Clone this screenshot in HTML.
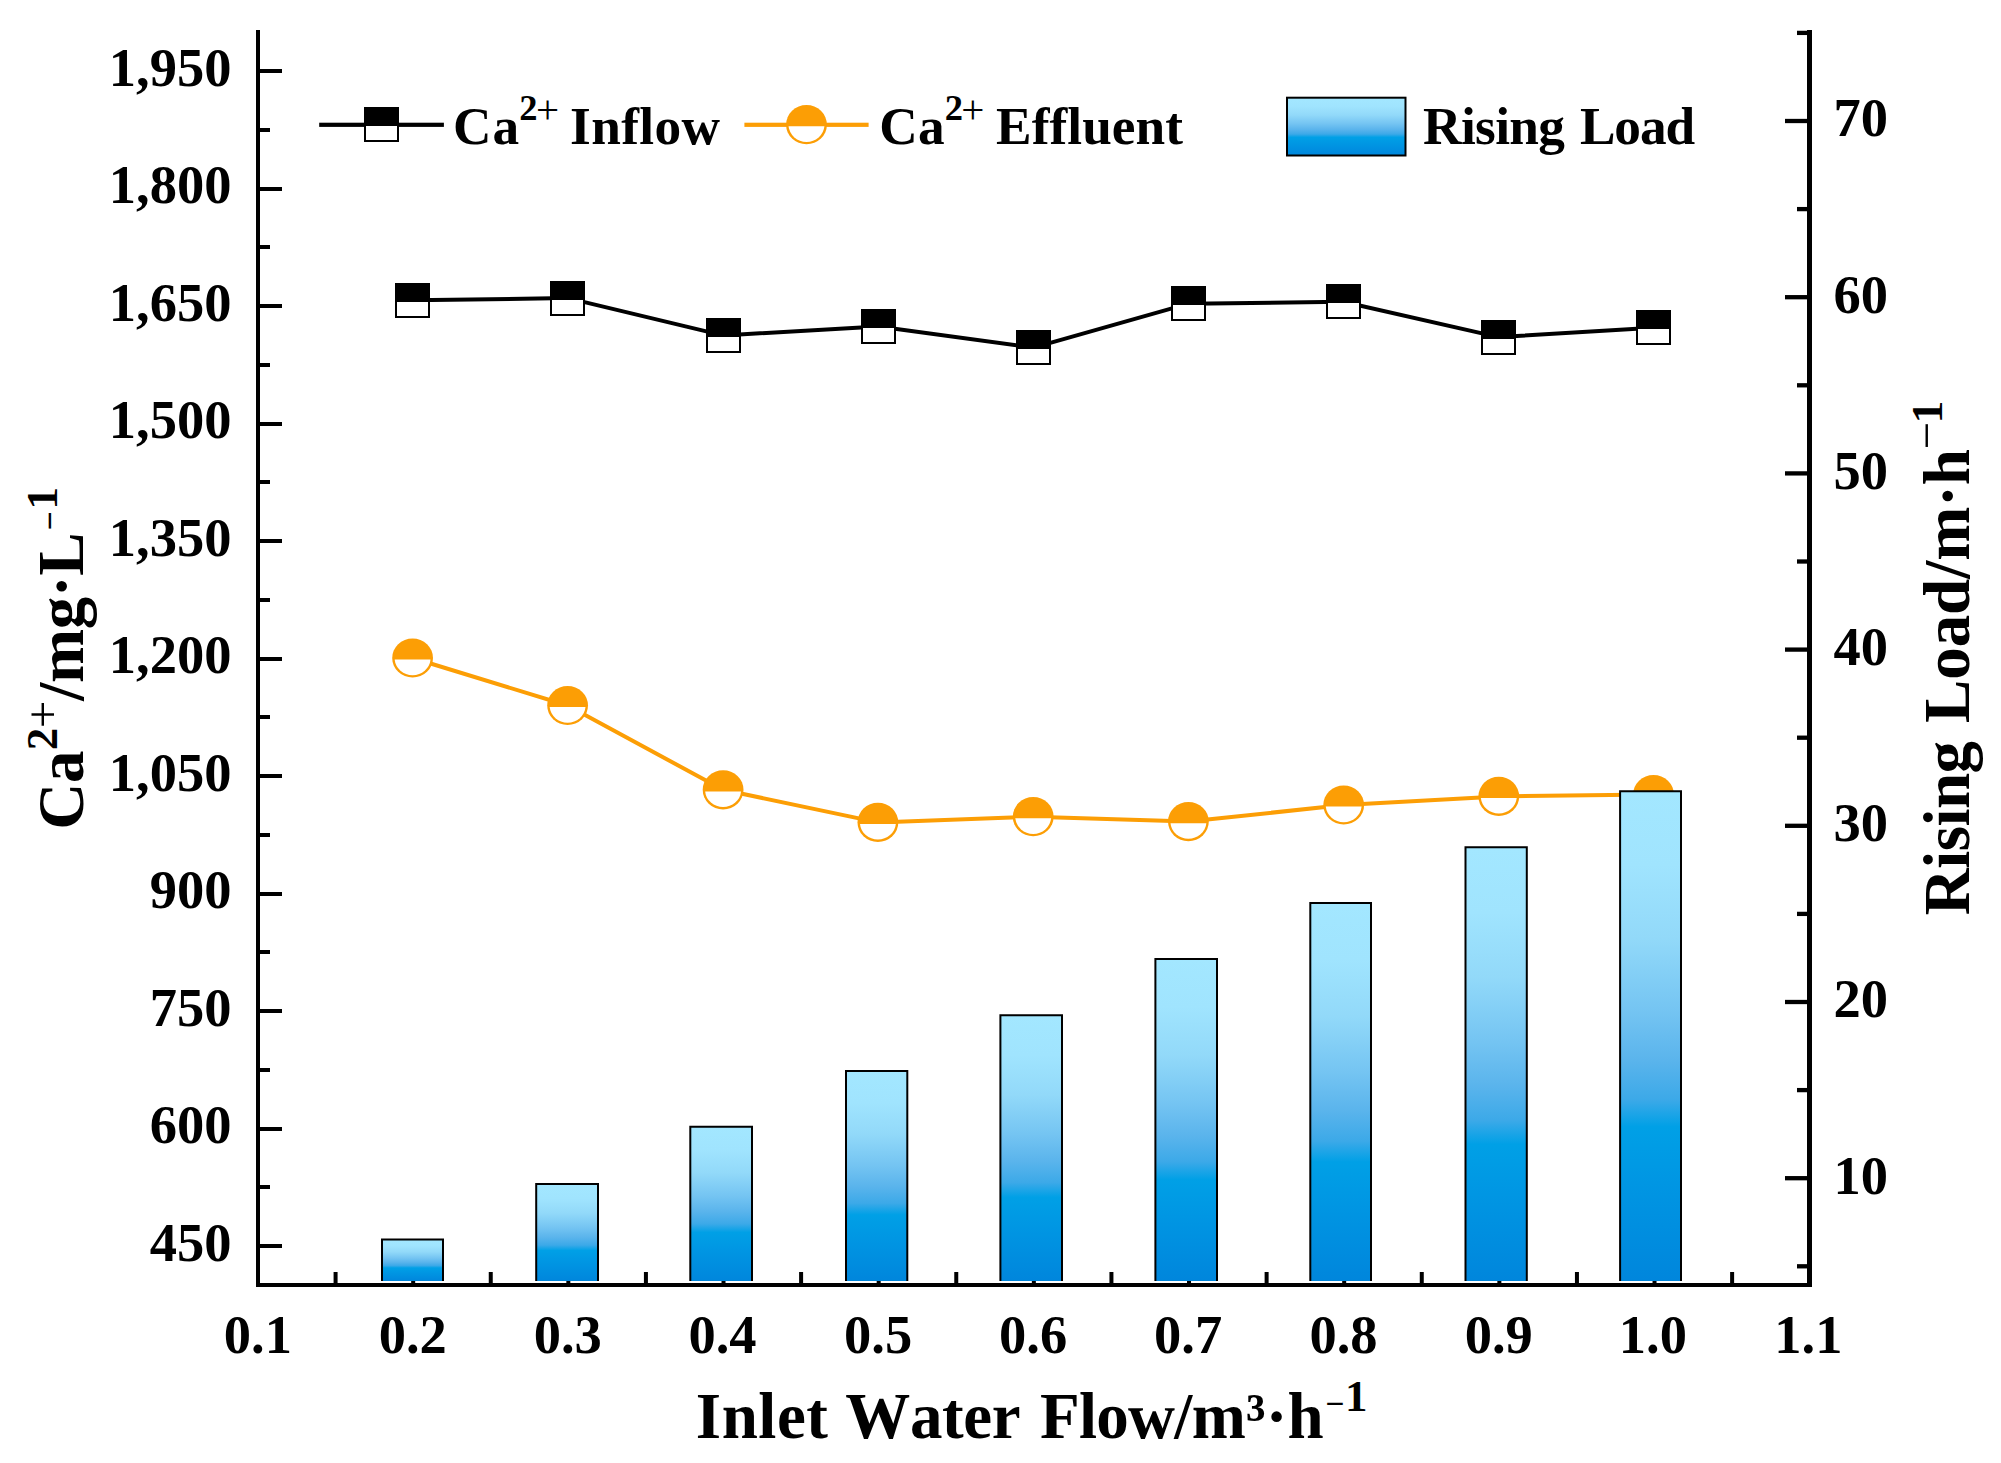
<!DOCTYPE html>
<html lang="en"><head><meta charset="utf-8"><title>Chart</title>
<style>
html,body{margin:0;padding:0;background:#fff;}
body{width:2001px;height:1463px;overflow:hidden;}
svg{display:block;}
text{font-family:"Liberation Serif",serif;font-weight:bold;fill:#000;font-kerning:none;font-variant-ligatures:none;}
.tk{font-size:54.50px;}
.lg{font-size:53.30px;}
.tt{font-size:65.00px;}
.ax{stroke:#000;stroke-width:4;fill:none;}
</style></head><body>
<svg width="2001" height="1463" viewBox="0 0 2001 1463">
<defs>
<linearGradient id="bg" x1="0" y1="0" x2="0" y2="1">
<stop offset="0" stop-color="#a3e7ff"/>
<stop offset="0.15" stop-color="#a0e4fe"/>
<stop offset="0.3" stop-color="#92d9f9"/>
<stop offset="0.45" stop-color="#74c4f2"/>
<stop offset="0.55" stop-color="#5ab4ec"/>
<stop offset="0.63" stop-color="#3ca9e8"/>
<stop offset="0.685" stop-color="#00a0e6"/>
<stop offset="0.8" stop-color="#0096e3"/>
<stop offset="1" stop-color="#0086dc"/>
</linearGradient>
</defs>
<rect x="0" y="0" width="2001" height="1463" fill="#fff"/>
<g id="orange-series">
<polyline points="412.6,658.0 567.6,705.5 723.1,789.8 877.9,822.4 1033.2,816.7 1188.4,821.6 1343.7,805.0 1498.8,796.4 1653.5,794.5" fill="none" stroke="#fc9e05" stroke-width="4" stroke-linejoin="round"/>
<ellipse cx="412.6" cy="658.0" rx="20.4" ry="19.6" fill="#fc9e05"/><path d="M394.68 659.60 A18.00 17.20 0 0 0 430.52 659.60 Z" fill="#fff"/>
<ellipse cx="567.6" cy="705.5" rx="20.4" ry="19.6" fill="#fc9e05"/><path d="M549.68 707.10 A18.00 17.20 0 0 0 585.52 707.10 Z" fill="#fff"/>
<ellipse cx="723.1" cy="789.8" rx="20.4" ry="19.6" fill="#fc9e05"/><path d="M705.18 791.40 A18.00 17.20 0 0 0 741.02 791.40 Z" fill="#fff"/>
<ellipse cx="877.9" cy="822.4" rx="20.4" ry="19.6" fill="#fc9e05"/><path d="M859.98 824.00 A18.00 17.20 0 0 0 895.82 824.00 Z" fill="#fff"/>
<ellipse cx="1033.2" cy="816.7" rx="20.4" ry="19.6" fill="#fc9e05"/><path d="M1015.28 818.30 A18.00 17.20 0 0 0 1051.12 818.30 Z" fill="#fff"/>
<ellipse cx="1188.4" cy="821.6" rx="20.4" ry="19.6" fill="#fc9e05"/><path d="M1170.48 823.20 A18.00 17.20 0 0 0 1206.32 823.20 Z" fill="#fff"/>
<ellipse cx="1343.7" cy="805.0" rx="20.4" ry="19.6" fill="#fc9e05"/><path d="M1325.78 806.60 A18.00 17.20 0 0 0 1361.62 806.60 Z" fill="#fff"/>
<ellipse cx="1498.8" cy="796.4" rx="20.4" ry="19.6" fill="#fc9e05"/><path d="M1480.88 798.00 A18.00 17.20 0 0 0 1516.72 798.00 Z" fill="#fff"/>
<ellipse cx="1653.5" cy="794.5" rx="20.4" ry="19.6" fill="#fc9e05"/><path d="M1635.58 796.10 A18.00 17.20 0 0 0 1671.42 796.10 Z" fill="#fff"/>
</g>
<g id="xticks" fill="#000">
<rect x="411.17" y="1261" width="4" height="23"/>
<rect x="566.34" y="1261" width="4" height="23"/>
<rect x="721.51" y="1261" width="4" height="23"/>
<rect x="876.68" y="1261" width="4" height="23"/>
<rect x="1031.85" y="1261" width="4" height="23"/>
<rect x="1187.02" y="1261" width="4" height="23"/>
<rect x="1342.19" y="1261" width="4" height="23"/>
<rect x="1497.36" y="1261" width="4" height="23"/>
<rect x="1652.53" y="1261" width="4" height="23"/>
<rect x="333.58" y="1272" width="4" height="12"/>
<rect x="488.75" y="1272" width="4" height="12"/>
<rect x="643.92" y="1272" width="4" height="12"/>
<rect x="799.10" y="1272" width="4" height="12"/>
<rect x="954.26" y="1272" width="4" height="12"/>
<rect x="1109.43" y="1272" width="4" height="12"/>
<rect x="1264.61" y="1272" width="4" height="12"/>
<rect x="1419.77" y="1272" width="4" height="12"/>
<rect x="1574.94" y="1272" width="4" height="12"/>
<rect x="1730.12" y="1272" width="4" height="12"/>
</g>
<g id="bars">
<rect x="382.00" y="1239.40" width="61.00" height="41.60" fill="url(#bg)"/>
<path d="M382.00 1281.00 V1239.40 H443.00 V1281.00" fill="none" stroke="#000" stroke-width="2"/>
<rect x="536.20" y="1184.00" width="61.80" height="97.00" fill="url(#bg)"/>
<path d="M536.20 1281.00 V1184.00 H598.00 V1281.00" fill="none" stroke="#000" stroke-width="2"/>
<rect x="690.30" y="1126.70" width="61.70" height="154.30" fill="url(#bg)"/>
<path d="M690.30 1281.00 V1126.70 H752.00 V1281.00" fill="none" stroke="#000" stroke-width="2"/>
<rect x="846.00" y="1070.90" width="61.30" height="210.10" fill="url(#bg)"/>
<path d="M846.00 1281.00 V1070.90 H907.30 V1281.00" fill="none" stroke="#000" stroke-width="2"/>
<rect x="1000.40" y="1015.20" width="61.60" height="265.80" fill="url(#bg)"/>
<path d="M1000.40 1281.00 V1015.20 H1062.00 V1281.00" fill="none" stroke="#000" stroke-width="2"/>
<rect x="1155.40" y="959.00" width="61.60" height="322.00" fill="url(#bg)"/>
<path d="M1155.40 1281.00 V959.00 H1217.00 V1281.00" fill="none" stroke="#000" stroke-width="2"/>
<rect x="1310.30" y="902.90" width="60.70" height="378.10" fill="url(#bg)"/>
<path d="M1310.30 1281.00 V902.90 H1371.00 V1281.00" fill="none" stroke="#000" stroke-width="2"/>
<rect x="1465.50" y="847.20" width="61.30" height="433.80" fill="url(#bg)"/>
<path d="M1465.50 1281.00 V847.20 H1526.80 V1281.00" fill="none" stroke="#000" stroke-width="2"/>
<rect x="1620.10" y="791.30" width="60.90" height="489.70" fill="url(#bg)"/>
<path d="M1620.10 1281.00 V791.30 H1681.00 V1281.00" fill="none" stroke="#000" stroke-width="2"/>
</g>
<g id="black-series">
<polyline points="412.6,300.2 567.8,298.1 723.0,335.4 878.3,326.6 1033.5,347.6 1188.7,303.7 1343.0,301.8 1498.5,337.1 1653.5,327.8" fill="none" stroke="#000" stroke-width="4" stroke-linejoin="round"/>
<rect x="396" y="284" width="33" height="33" fill="#fff" stroke="#000" stroke-width="2"/><rect x="395" y="283" width="35" height="19" fill="#000"/>
<rect x="551" y="282" width="33" height="33" fill="#fff" stroke="#000" stroke-width="2"/><rect x="550" y="281" width="35" height="19" fill="#000"/>
<rect x="707" y="319" width="33" height="33" fill="#fff" stroke="#000" stroke-width="2"/><rect x="706" y="318" width="35" height="19" fill="#000"/>
<rect x="862" y="310" width="33" height="33" fill="#fff" stroke="#000" stroke-width="2"/><rect x="861" y="309" width="35" height="19" fill="#000"/>
<rect x="1017" y="331" width="33" height="33" fill="#fff" stroke="#000" stroke-width="2"/><rect x="1016" y="330" width="35" height="19" fill="#000"/>
<rect x="1172" y="287" width="33" height="33" fill="#fff" stroke="#000" stroke-width="2"/><rect x="1171" y="286" width="35" height="19" fill="#000"/>
<rect x="1327" y="285" width="33" height="33" fill="#fff" stroke="#000" stroke-width="2"/><rect x="1326" y="284" width="35" height="19" fill="#000"/>
<rect x="1482" y="321" width="33" height="33" fill="#fff" stroke="#000" stroke-width="2"/><rect x="1481" y="320" width="35" height="19" fill="#000"/>
<rect x="1637" y="311" width="33" height="33" fill="#fff" stroke="#000" stroke-width="2"/><rect x="1636" y="310" width="35" height="19" fill="#000"/>
</g>
<g id="axes" fill="#000">
<rect x="256" y="30.0" width="4" height="1257.0"/>
<rect x="1807" y="30.0" width="5" height="1257.0"/>
<rect x="256" y="1283" width="1556" height="4"/>
<rect x="258" y="69" width="24" height="4"/>
<rect x="258" y="187" width="24" height="4"/>
<rect x="258" y="304" width="24" height="4"/>
<rect x="258" y="422" width="24" height="4"/>
<rect x="258" y="539" width="24" height="4"/>
<rect x="258" y="657" width="24" height="4"/>
<rect x="258" y="774" width="24" height="4"/>
<rect x="258" y="892" width="24" height="4"/>
<rect x="258" y="1009" width="24" height="4"/>
<rect x="258" y="1127" width="24" height="4"/>
<rect x="258" y="1244" width="24" height="4"/>
<rect x="258" y="128" width="12" height="4"/>
<rect x="258" y="245" width="12" height="4"/>
<rect x="258" y="363" width="12" height="4"/>
<rect x="258" y="480" width="12" height="4"/>
<rect x="258" y="598" width="12" height="4"/>
<rect x="258" y="715" width="12" height="4"/>
<rect x="258" y="833" width="12" height="4"/>
<rect x="258" y="950" width="12" height="4"/>
<rect x="258" y="1068" width="12" height="4"/>
<rect x="258" y="1185" width="12" height="4"/>
<rect x="1785" y="118.85" width="24" height="4.3"/>
<rect x="1785" y="295.05" width="24" height="4.3"/>
<rect x="1785" y="471.25" width="24" height="4.3"/>
<rect x="1785" y="647.45" width="24" height="4.3"/>
<rect x="1785" y="823.65" width="24" height="4.3"/>
<rect x="1785" y="999.85" width="24" height="4.3"/>
<rect x="1785" y="1176.05" width="24" height="4.3"/>
<rect x="1797" y="30.75" width="12" height="4.3"/>
<rect x="1797" y="206.95" width="12" height="4.3"/>
<rect x="1797" y="383.15" width="12" height="4.3"/>
<rect x="1797" y="559.35" width="12" height="4.3"/>
<rect x="1797" y="735.55" width="12" height="4.3"/>
<rect x="1797" y="911.75" width="12" height="4.3"/>
<rect x="1797" y="1087.95" width="12" height="4.3"/>
<rect x="1797" y="1264.15" width="12" height="4.3"/>
</g>
<g id="ticklabels" class="tk">
<text><tspan x="108.85" y="85.60" style="font-size:54.50px;">1,950</tspan></text>
<text><tspan x="108.85" y="203.10" style="font-size:54.50px;">1,800</tspan></text>
<text><tspan x="108.85" y="320.60" style="font-size:54.50px;">1,650</tspan></text>
<text><tspan x="108.85" y="438.10" style="font-size:54.50px;">1,500</tspan></text>
<text><tspan x="108.85" y="555.60" style="font-size:54.50px;">1,350</tspan></text>
<text><tspan x="108.85" y="673.10" style="font-size:54.50px;">1,200</tspan></text>
<text><tspan x="108.85" y="790.60" style="font-size:54.50px;">1,050</tspan></text>
<text><tspan x="149.73" y="908.10" style="font-size:54.50px;">900</tspan></text>
<text><tspan x="149.73" y="1025.60" style="font-size:54.50px;">750</tspan></text>
<text><tspan x="149.73" y="1143.10" style="font-size:54.50px;">600</tspan></text>
<text><tspan x="149.73" y="1260.60" style="font-size:54.50px;">450</tspan></text>
<text><tspan x="1833.50" y="136.40" style="font-size:54.50px;">70</tspan></text>
<text><tspan x="1833.50" y="312.60" style="font-size:54.50px;">60</tspan></text>
<text><tspan x="1833.50" y="488.80" style="font-size:54.50px;">50</tspan></text>
<text><tspan x="1833.50" y="665.00" style="font-size:54.50px;">40</tspan></text>
<text><tspan x="1833.50" y="841.20" style="font-size:54.50px;">30</tspan></text>
<text><tspan x="1833.50" y="1017.40" style="font-size:54.50px;">20</tspan></text>
<text><tspan x="1833.50" y="1193.60" style="font-size:54.50px;">10</tspan></text>
<text><tspan x="223.81" y="1352.60" style="font-size:54.50px;">0.1</tspan></text>
<text><tspan x="378.74" y="1352.60" style="font-size:54.50px;">0.2</tspan></text>
<text><tspan x="533.67" y="1352.60" style="font-size:54.50px;">0.3</tspan></text>
<text><tspan x="688.42" y="1352.60" style="font-size:54.50px;">0.4</tspan></text>
<text><tspan x="844.08" y="1352.60" style="font-size:54.50px;">0.5</tspan></text>
<text><tspan x="999.05" y="1352.60" style="font-size:54.50px;">0.6</tspan></text>
<text><tspan x="1154.08" y="1352.60" style="font-size:54.50px;">0.7</tspan></text>
<text><tspan x="1309.49" y="1352.60" style="font-size:54.50px;">0.8</tspan></text>
<text><tspan x="1464.74" y="1352.60" style="font-size:54.50px;">0.9</tspan></text>
<text><tspan x="1618.82" y="1352.60" style="font-size:54.50px;">1.0</tspan></text>
<text><tspan x="1774.37" y="1352.60" style="font-size:54.50px;">1.1</tspan></text>
</g>
<g id="titles" class="tt">
<text><tspan x="695.81" y="1437.60" style="font-size:65.00px;letter-spacing:0.544px;">Inlet</tspan> <tspan x="845.28" y="1437.60" style="font-size:65.00px;letter-spacing:-0.357px;">Water</tspan> <tspan x="1039.89" y="1437.60" style="font-size:65.00px;letter-spacing:-0.697px;">Flow/m</tspan><tspan x="1245.97" y="1437.60" style="font-size:65.00px;letter-spacing:0.199px;">³·h</tspan><tspan x="1325.33" y="1414.60" style="font-size:33.50px;">−</tspan><tspan x="1345.00" y="1411.30" style="font-size:45.00px;">1</tspan></text>
<text transform="translate(83.2,826.6) rotate(-90)"><tspan x="-3.17" y="0.00" style="font-size:65.00px;letter-spacing:-0.283px;">Ca</tspan><tspan x="76.31" y="-25.90" style="font-size:45.00px;">2</tspan><tspan x="98.26" y="-24.30" style="font-size:49.00px;font-weight:normal;">+</tspan><tspan x="125.83" y="0.00" style="font-size:65.00px;letter-spacing:-0.310px;">/mg·L</tspan><tspan x="296.03" y="-21.90" style="font-size:33.50px;">−</tspan><tspan x="317.00" y="-25.80" style="font-size:45.00px;">1</tspan></text>
<text transform="translate(1968.7,914.1) rotate(-90)"><tspan x="-1.11" y="0.00" style="font-size:65.00px;letter-spacing:-0.552px;">Rising</tspan> <tspan x="191.09" y="0.00" style="font-size:65.00px;letter-spacing:-0.077px;">Load/m·h</tspan><tspan x="464.76" y="-26.00" style="font-size:49.00px;font-weight:normal;">−</tspan><tspan x="490.80" y="-26.60" style="font-size:45.00px;">1</tspan></text>
</g>
<g id="legend" class="lg">
<rect x="319.2" y="122.7" width="124.7" height="4.2" fill="#000"/>
<rect x="365" y="108" width="33" height="33" fill="#fff" stroke="#000" stroke-width="2"/><rect x="364" y="107" width="35" height="19" fill="#000"/>
<text><tspan x="453.10" y="143.60" style="font-size:53.30px;letter-spacing:0.868px;">Ca</tspan><tspan x="519.17" y="120.40" style="font-size:36.50px;">2</tspan><tspan x="535.96" y="123.40" style="font-size:41.00px;font-weight:normal;">+</tspan> <tspan x="570.10" y="143.60" style="font-size:53.30px;letter-spacing:0.340px;">Inflow</tspan></text>
<rect x="744.4" y="122.7" width="124.2" height="4.2" fill="#fc9e05"/>
<ellipse cx="806.5" cy="124.7" rx="20.4" ry="19.6" fill="#fc9e05"/><path d="M788.58 126.30 A18.00 17.20 0 0 0 824.42 126.30 Z" fill="#fff"/>
<text><tspan x="879.30" y="143.60" style="font-size:53.30px;letter-spacing:0.268px;">Ca</tspan><tspan x="944.67" y="120.40" style="font-size:36.50px;">2</tspan><tspan x="961.16" y="123.40" style="font-size:41.00px;font-weight:normal;">+</tspan> <tspan x="996.09" y="143.60" style="font-size:53.30px;letter-spacing:0.056px;">Effluent</tspan></text>
<rect x="1287" y="97.7" width="118.5" height="57.8" fill="url(#bg)" stroke="#000" stroke-width="2"/>
<text><tspan x="1423.09" y="143.60" style="font-size:53.30px;letter-spacing:-0.642px;">Rising</tspan> <tspan x="1579.89" y="143.60" style="font-size:53.30px;letter-spacing:-1.095px;">Load</tspan></text>
</g>
</svg>
</body></html>
